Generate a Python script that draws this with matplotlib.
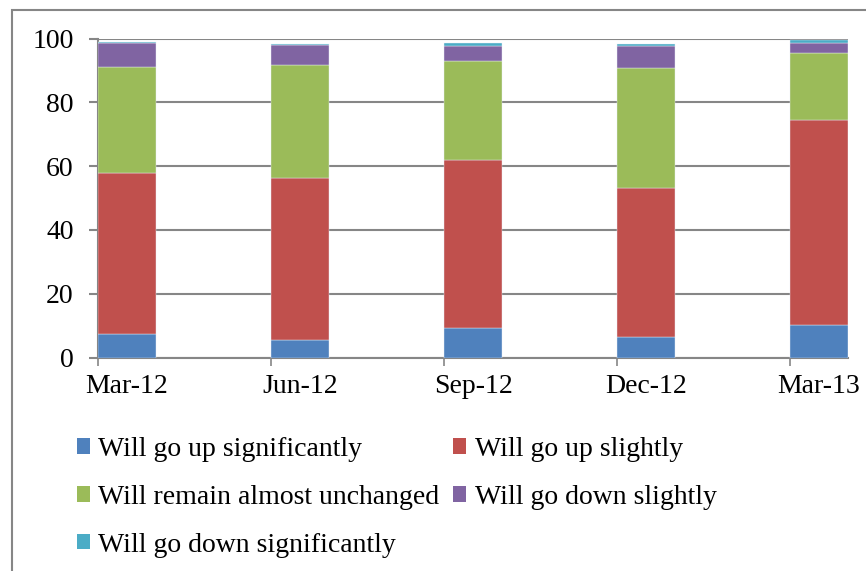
import matplotlib.pyplot as plt
import numpy as np
from matplotlib.patches import Patch, Rectangle

plt.rcParams['font.family'] = ['Liberation Serif', 'DejaVu Serif']

# Survey periods and answer shares (%)
periods = ['Mar-12', 'Jun-12', 'Sep-12', 'Dec-12', 'Mar-13']
series_names = ['Will go up significantly', 'Will go up slightly',
                'Will remain almost unchanged', 'Will go down slightly',
                'Will go down significantly']
up_sig = [7.5, 5.6, 9.4, 6.4, 10.3]
up_slight = [50.2, 50.7, 52.4, 46.6, 64.0]
unchanged = [33.5, 35.4, 31.0, 37.8, 21.1]
down_slight = [7.3, 6.2, 5.0, 7.0, 3.1]
down_sig = [0.4, 0.4, 0.8, 0.6, 0.9]
colors = ['#4F81BD', '#C0504D', '#9BBB59', '#8064A2', '#4BACC6']

series = [up_sig, up_slight, unchanged, down_slight, down_sig]
grid_col = '#868686'

fig = plt.figure(figsize=(8.66, 5.71), dpi=100)
ax = fig.add_axes([98 / 866, 1 - 357.5 / 571, 750 / 866, 319 / 571])

x = np.arange(len(periods))
width = 0.335
bottom = np.zeros(len(periods))
for vals, col, name in zip(series, colors, series_names):
    ax.bar(x, vals, width=width, bottom=bottom, align='edge', color=col,
           edgecolor='#e8eef6', linewidth=0.3, label=name, zorder=3)
    bottom += np.array(vals)

ax.set_xlim(0, 4 + width)
ax.set_ylim(0, 100)
ax.set_yticks([0, 20, 40, 60, 80, 100])
ax.yaxis.grid(True, color=grid_col, linewidth=1.5, zorder=0)
ax.set_axisbelow(True)

# ticks on category boundaries, labels centred on bars
ax.set_xticks(x)
ax.set_xticklabels([])
ax.set_xticks(x + width / 2, minor=True)
ax.set_xticklabels(periods, minor=True)
ax.tick_params(axis='x', which='major', length=6, width=1.2, color=grid_col, direction='out')
ax.tick_params(axis='x', which='minor', length=0, pad=12, labelsize=20)
ax.tick_params(axis='y', length=6.5, width=1.5, color=grid_col, pad=11, labelsize=20)

for side in ['top', 'right']:
    ax.spines[side].set_visible(False)
for side in ['left', 'bottom']:
    ax.spines[side].set_color(grid_col)
    ax.spines[side].set_linewidth(1.5)

# legend filled row by row, like the original
handles = [Patch(facecolor=c, label=n) for c, n in zip(colors, series_names)]
order = [0, 2, 4, 1, 3]
fig.legend([handles[i] for i in order], [series_names[i] for i in order],
           ncol=2, loc='upper left', bbox_to_anchor=(77 / 866, 1 - 437 / 571),
           frameon=False, fontsize=20, handlelength=0.47, handleheight=0.47,
           handletextpad=0.3, labelspacing=0.82, columnspacing=0.5,
           borderpad=0, borderaxespad=0)

# outer chart frame (only left and top edges are visible)
fig.add_artist(Rectangle((12 / 866, -0.1), 2, 1 - 9.5 / 571 + 0.1,
                         transform=fig.transFigure, fill=False,
                         edgecolor=grid_col, linewidth=1.5))

fig.savefig('out.png', dpi=100)
